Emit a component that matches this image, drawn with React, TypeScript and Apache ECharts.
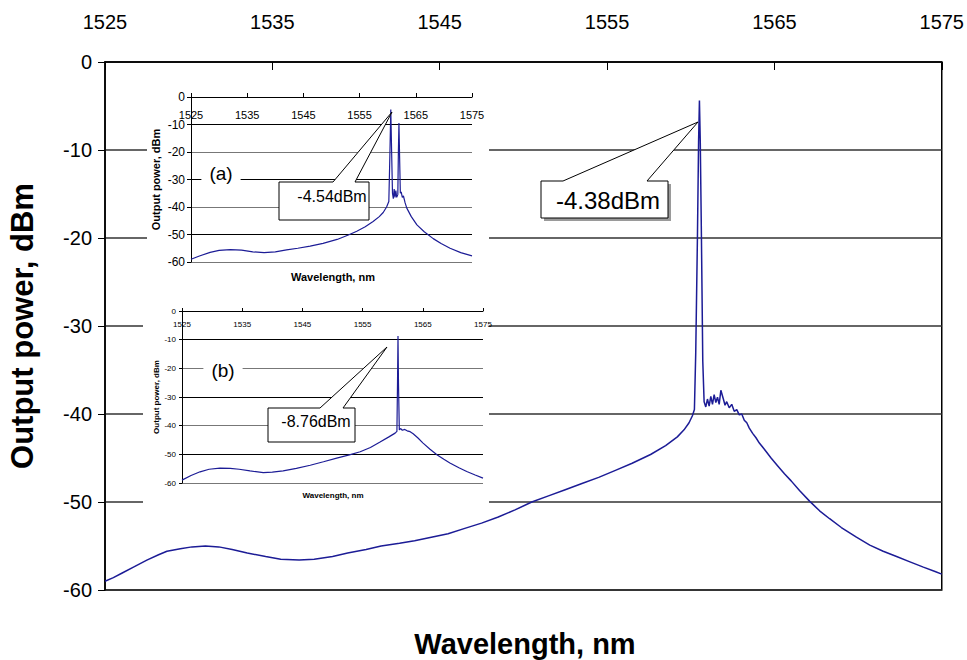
import React, { useEffect, useRef } from "react";
import * as echarts from "echarts";

const FONT = "'Liberation Sans', Arial, sans-serif";

// Main spectrum (wavelength nm, output power dBm)
const mainWavelength = [
  1525, 1525.5, 1526, 1526.7, 1527.5, 1528.2, 1528.7, 1529.5, 1530.2, 1531, 1531.8, 1532.6, 1533.5, 1534.6,
  1535.5, 1536.6, 1537.5, 1538.6, 1539.5, 1540.6, 1541.5, 1542.6, 1543.5, 1544.5, 1545.5, 1546.5, 1547.5,
  1548.5, 1549.5, 1550.5, 1551.5, 1552.5, 1553.5, 1554.5, 1555.5, 1556.5, 1557.6, 1558.5, 1559.2, 1559.6,
  1559.9, 1560.1, 1560.22, 1560.3, 1560.4, 1560.47, 1560.52, 1560.57, 1560.64, 1560.72, 1560.8, 1560.9,
  1561.0, 1561.1, 1561.2, 1561.3, 1561.4, 1561.5, 1561.6, 1561.7, 1561.8, 1561.95, 1562.05, 1562.15, 1562.3,
  1562.45, 1562.6, 1562.75, 1562.9, 1563.05, 1563.2, 1563.35, 1563.5, 1563.7, 1563.9, 1564.1, 1564.4,
  1564.8, 1565.2, 1565.6, 1566.0, 1566.5, 1567.1, 1567.7, 1568.3, 1569.0, 1569.9, 1570.7, 1571.5, 1572.3,
  1573.1, 1573.9, 1574.6, 1575,
];
const mainPower = [
  -59.0, -58.6, -58.1, -57.4, -56.6, -56.0, -55.6, -55.3, -55.1, -55.0, -55.1, -55.4, -55.8, -56.2,
  -56.5, -56.6, -56.5, -56.2, -55.8, -55.4, -55.0, -54.7, -54.4, -54.0, -53.6, -53.0, -52.4,
  -51.7, -50.9, -50.0, -49.3, -48.6, -47.9, -47.2, -46.4, -45.6, -44.6, -43.6, -42.6, -41.8,
  -41.0, -40.2, -39.5, -33.0, -20.0, -9.0, -4.38, -9.0, -20.0, -34.0, -38.6, -39.2,
  -38.3, -39.1, -38.0, -38.9, -37.8, -38.7, -38.1, -38.9, -37.3, -38.3, -39.0, -38.6, -39.3,
  -38.9, -39.7, -39.5, -40.1, -40.0, -40.7, -41.0, -41.6, -42.2, -42.7, -43.3, -44.0,
  -45.0, -45.9, -46.8, -47.6, -48.7, -49.9, -51.0, -51.9, -52.9, -54.0, -54.9, -55.6, -56.2,
  -56.8, -57.4, -57.9, -58.2,
];

// Inset (a)
const insetAWavelength = [
  1525, 1526.5, 1528.4, 1530, 1532, 1534, 1536, 1538, 1540, 1542, 1544, 1546.2, 1548.5, 1551, 1553, 1554.5,
  1556, 1557.4, 1558.5, 1559.2, 1559.8, 1560.2, 1560.4, 1560.55, 1560.7, 1560.85, 1561.0, 1561.15, 1561.3,
  1561.45, 1561.6, 1561.8, 1561.9, 1562.0, 1562.1, 1562.25, 1562.4, 1562.6, 1562.8, 1563.1, 1563.4, 1564.2,
  1565.2, 1566.5, 1568.1, 1569.5, 1571.1, 1573, 1575,
];
const insetAPower = [
  -59, -57.8, -56.5, -55.8, -55.5, -55.7, -56.3, -56.6, -56.3, -55.6, -55.0, -54.2, -53.2, -51.8, -50.2, -48.8,
  -47.2, -45.3, -43.5, -42.0, -40.0, -38.0, -20, -4.54, -20, -35, -37, -33.5, -36.5,
  -34, -36.5, -35.5, -20, -9.5, -20, -35, -34.5, -36.5, -36, -38.5, -40.4, -43.5,
  -46.5, -49, -51.5, -53.3, -55, -56.6, -57.8,
];

// Inset (b)
const insetBWavelength = [
  1525, 1526.5, 1528, 1529.5, 1531.3, 1533, 1534.5, 1536.3, 1538.5, 1540, 1541.8, 1544, 1546.3, 1548.5,
  1550.7, 1552.8, 1554.6, 1556.3, 1557.9, 1559.3, 1560.4, 1560.7, 1560.8, 1560.88, 1560.96, 1561.1, 1561.3,
  1561.6, 1562.0, 1562.4, 1562.9, 1563.4, 1564.2, 1565, 1566.2, 1567.4, 1568.5, 1569.5, 1571, 1572.3,
  1573.7, 1575,
];
const insetBPower = [
  -59, -57.4, -56.1, -55.2, -54.8, -54.9, -55.2, -55.8, -56.4, -56.2, -55.8, -54.9, -53.8, -52.6,
  -51.3, -50.2, -49.1, -47.6, -45.7, -44.0, -42.6, -42, -25, -8.76, -25, -41.5, -41.0,
  -41.6, -41.3, -41.8, -42.1, -42.8, -44.3, -46, -48.2, -50.2, -51.7, -53, -54.7, -56,
  -57.2, -58.3,
];

const zip = (xs: number[], ys: number[]) => xs.map((x, i) => [x, ys[i]]);

const LINE_COLOR = "#1c1c96";

function callout(
  box: [number, number, number, number],
  base: [number, number],
  tip: [number, number],
  text: string,
  textPos: [number, number],
  fontSize: number,
  shadow: boolean
) {
  const [x0, y0, x1, y1] = box;
  const pts = [
    [x0, y0],
    [base[0], y0],
    tip,
    [base[1], y0],
    [x1, y0],
    [x1, y1],
    [x0, y1],
  ];
  const els: any[] = [];
  if (shadow) {
    els.push({
      type: "rect",
      z: 9,
      shape: { x: x0 + 3, y: y0 + 3, width: x1 - x0, height: y1 - y0 },
      style: { fill: "#9a9a9a" },
    });
  }
  els.push({
    type: "polygon",
    z: 10,
    shape: { points: pts },
    style: { fill: "#fff", stroke: "#000", lineWidth: 1 },
  });
  els.push({
    type: "text",
    z: 11,
    x: textPos[0],
    y: textPos[1],
    style: {
      text,
      fontFamily: FONT,
      fontSize,
      fill: "#000",
      align: "center",
      verticalAlign: "middle",
    },
  });
  return els;
}

const fmt = (v: number) => String(v);

export default function App() {
  const ref = useRef<HTMLDivElement>(null);
  useEffect(() => {
    if (!ref.current) return;
    const chart = echarts.init(ref.current, undefined, { renderer: "svg" });

    const xAxisBase = (gridIndex: number, fontSize: number, margin: number, inside: boolean, tickInside: boolean, tickLen: number, z: number) => ({
      type: "value",
      gridIndex,
      position: "top",
      min: 1525,
      max: 1575,
      interval: 10,
      z,
      axisLine: { show: true, onZero: false, lineStyle: { color: "#000", width: gridIndex === 0 ? 1.5 : 1 } },
      axisTick: { show: true, inside: tickInside, length: tickLen, lineStyle: { color: "#000" } },
      axisLabel: { show: true, inside, margin, fontSize, fontFamily: FONT, color: "#000", formatter: fmt },
      splitLine: { show: false },
    });
    const yAxisBase = (gridIndex: number, fontSize: number, margin: number, tickLen: number, z: number, splitColor: any, splitWidth: number) => ({
      type: "value",
      gridIndex,
      min: -60,
      max: 0,
      interval: 10,
      z,
      axisLine: { show: true, onZero: false, lineStyle: { color: "#000", width: gridIndex === 0 ? 1.5 : 1 } },
      axisTick: { show: true, length: tickLen, lineStyle: { color: "#000" } },
      axisLabel: { show: true, margin, fontSize, fontFamily: FONT, color: "#000", formatter: fmt },
      splitLine: { show: true, lineStyle: { color: splitColor, width: splitWidth } },
    });

    const graphics: any[] = [
      // inset backgrounds
      { type: "rect", z: 3, shape: { x: 147, y: 84, width: 342, height: 204 }, style: { fill: "#fff" } },
      { type: "rect", z: 3, shape: { x: 143, y: 300, width: 346, height: 206 }, style: { fill: "#fff" } },
      // main titles
      {
        type: "text",
        x: 22,
        y: 326,
        rotation: Math.PI / 2,
        style: { text: "Output power, dBm", fontFamily: FONT, fontWeight: "bold", fontSize: 31, fill: "#000", align: "center", verticalAlign: "middle" },
      },
      {
        type: "text",
        x: 525,
        y: 644,
        style: { text: "Wavelength, nm", fontFamily: FONT, fontWeight: "bold", fontSize: 29, fill: "#000", align: "center", verticalAlign: "middle" },
      },
      // inset x titles
      {
        type: "text",
        z: 6,
        x: 333,
        y: 277,
        style: { text: "Wavelength, nm", fontFamily: FONT, fontWeight: "bold", fontSize: 11, fill: "#000", align: "center", verticalAlign: "middle" },
      },
      {
        type: "text",
        z: 6,
        x: 333,
        y: 495,
        style: { text: "Wavelength, nm", fontFamily: FONT, fontWeight: "bold", fontSize: 8, fill: "#000", align: "center", verticalAlign: "middle" },
      },
      // (a), (b) labels
      {
        type: "text",
        z: 7,
        x: 221,
        y: 173,
        style: { text: "(a)", fontFamily: FONT, fontSize: 19, fill: "#000", align: "center", verticalAlign: "middle", backgroundColor: "#fff", padding: [2, 8] },
      },
      {
        type: "text",
        z: 7,
        x: 223,
        y: 370,
        style: { text: "(b)", fontFamily: FONT, fontSize: 19, fill: "#000", align: "center", verticalAlign: "middle", backgroundColor: "#fff", padding: [2, 8] },
      },
      ...callout([541, 181, 668, 218], [563, 647], [698, 122], "-4.38dBm", [608, 200], 24, true),
      ...callout([279, 182, 369, 220], [333, 355], [392, 112], "-4.54dBm", [332, 196], 16, false),
      ...callout([268, 408, 355, 442], [320, 343], [387, 347], "-8.76dBm", [316, 421], 16, false),
    ];

    chart.setOption({
      animation: false,
      backgroundColor: "#fff",
      grid: [
        { left: 105, top: 62, width: 840, height: 528, show: true, borderColor: "#000", borderWidth: 1.5, backgroundColor: "transparent" },
        { left: 191, top: 97, width: 281, height: 165, show: false },
        { left: 182, top: 311, width: 301, height: 172, show: false },
      ],
      xAxis: [
        xAxisBase(0, 20, 30, false, true, 8, 0),
        xAxisBase(1, 11, 12, true, false, 4, 4),
        xAxisBase(2, 8, 9, true, false, 3, 4),
      ],
      yAxis: [
        yAxisBase(0, 20, 13, 7, 0, "#333", 1.5),
        {
          ...yAxisBase(1, 12, 6, 4, 4, ["#777", "#000"], 1),
          name: "Output power, dBm",
          nameLocation: "middle",
          nameGap: 30,
          nameTextStyle: { fontFamily: FONT, fontWeight: "bold", fontSize: 11, color: "#000" },
        },
        {
          ...yAxisBase(2, 8, 6, 3, 4, ["#777", "#000"], 1),
          name: "Output power, dBm",
          nameLocation: "middle",
          nameGap: 22,
          nameTextStyle: { fontFamily: FONT, fontWeight: "bold", fontSize: 8, color: "#000" },
        },
      ],
      series: [
        {
          type: "line",
          xAxisIndex: 0,
          yAxisIndex: 0,
          data: zip(mainWavelength, mainPower),
          showSymbol: false,
          z: 2,
          lineStyle: { color: LINE_COLOR, width: 1.5 },
        },
        {
          type: "line",
          xAxisIndex: 1,
          yAxisIndex: 1,
          data: zip(insetAWavelength, insetAPower),
          showSymbol: false,
          z: 5,
          lineStyle: { color: LINE_COLOR, width: 1.2 },
        },
        {
          type: "line",
          xAxisIndex: 2,
          yAxisIndex: 2,
          data: zip(insetBWavelength, insetBPower),
          showSymbol: false,
          z: 5,
          lineStyle: { color: LINE_COLOR, width: 1.2 },
        },
      ],
      graphic: graphics,
    });
    return () => chart.dispose();
  }, []);
  return <div ref={ref} style={{ position: "fixed", left: 0, top: 0, width: 967, height: 660 }} />;
}
